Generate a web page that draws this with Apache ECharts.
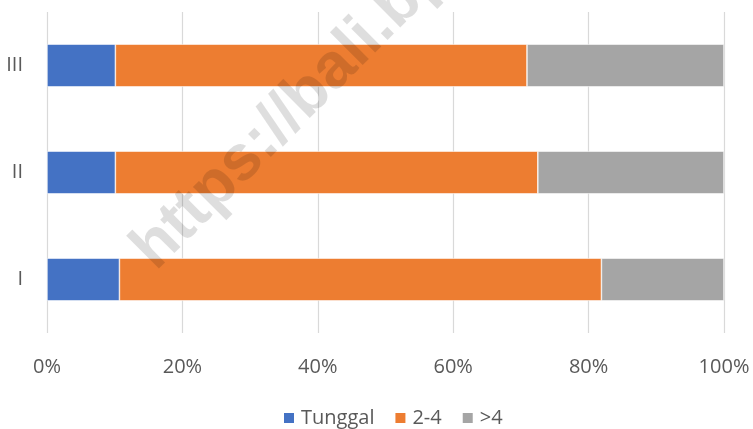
<!DOCTYPE html>
<html>
<head>
<meta charset="utf-8">
<script src="https://cdn.jsdelivr.net/npm/echarts@6/dist/echarts.min.js"></script>
<style>
    html, body { margin: 0; padding: 0; background: #fff; }
    #chart { width: 753px; height: 429px; }
</style>
</head>
<body>
<div id="chart"></div>
<script>
// kategori (bawah ke atas)
const categories = ['I', 'II', 'III'];
const seriesNames = ['Tunggal', '2-4', '>4'];
const tunggal = [10.7, 10.1, 10.1];
const duaEmpat = [71.2, 62.4, 60.8];
const lebihEmpat = [18.1, 27.5, 29.1];
const xTicks = [0, 20, 40, 60, 80, 100];

const colors = ['#4472C4', '#ED7D31', '#A5A5A5'];
const textColor = '#595959';
const fontFamily = '"Open Sans", "Liberation Sans", sans-serif';

let myChart = echarts.init(document.getElementById('chart'));

function barSeries(name, data, color) {
    return {
        name: name,
        type: 'bar',
        stack: 'total',
        barWidth: '40%',
        itemStyle: {
            color: color,
            borderColor: '#ffffff',
            borderWidth: 0.6
        },
        emphasis: { disabled: true },
        data: data
    };
}

let option = {
    animation: false,
    backgroundColor: '#ffffff',
    color: colors,
    grid: {
        left: 47,
        right: 29,
        top: 12,
        bottom: 96
    },
    xAxis: {
        type: 'value',
        min: xTicks[0],
        max: xTicks[xTicks.length - 1],
        interval: 20,
        axisLine: { show: false },
        axisTick: { show: false },
        axisLabel: {
            margin: 24,
            color: textColor,
            fontFamily: fontFamily,
            fontSize: 20,
            formatter: '{value}%'
        },
        splitLine: {
            show: true,
            lineStyle: { color: '#d9d9d9', width: 1.2 }
        }
    },
    yAxis: {
        type: 'category',
        data: categories,
        axisLine: { show: false },
        axisTick: { show: false },
        splitLine: { show: false },
        axisLabel: {
            margin: 24,
            color: textColor,
            fontFamily: fontFamily,
            fontSize: 20
        }
    },
    legend: {
        left: 277,
        top: 403,
        itemWidth: 12,
        itemHeight: 12,
        itemGap: 19,
        icon: 'rect',
        textStyle: {
            color: textColor,
            fontFamily: fontFamily,
            fontSize: 20,
            padding: [0, 0, 0, 1]
        },
        data: seriesNames
    },
    graphic: [
        {
            type: 'text',
            z: 100,
            x: 166,
            y: 282,
            rotation: Math.PI / 4,
            silent: true,
            style: {
                text: 'https://bali.bps.go.id',
                fill: 'rgba(0, 0, 0, 0.13)',
                font: 'bold 64px "Liberation Sans", sans-serif',
                textAlign: 'left',
                textVerticalAlign: 'bottom'
            }
        }
    ],
    series: [
        barSeries(seriesNames[0], tunggal, colors[0]),
        barSeries(seriesNames[1], duaEmpat, colors[1]),
        barSeries(seriesNames[2], lebihEmpat, colors[2])
    ]
};

myChart.setOption(option);
</script>
</body>
</html>
